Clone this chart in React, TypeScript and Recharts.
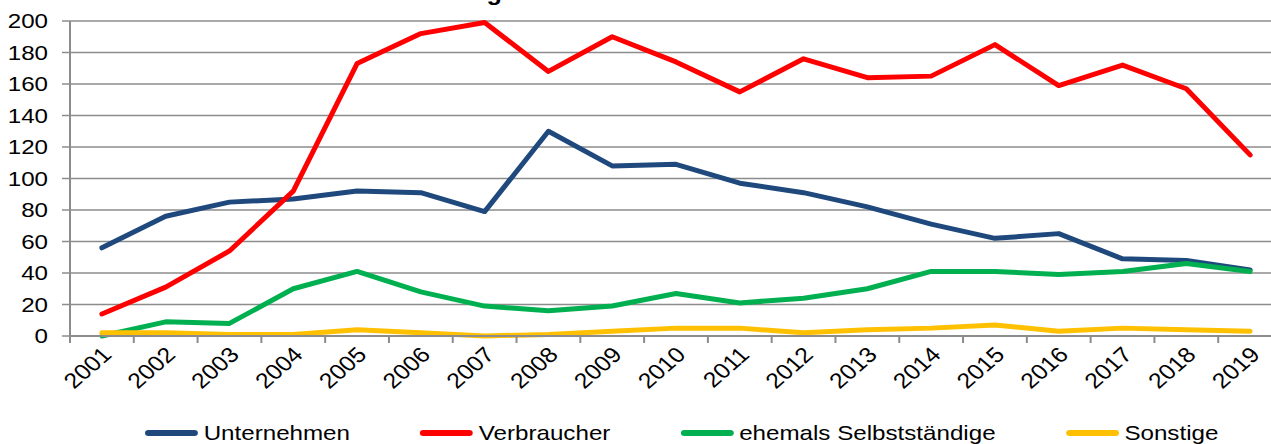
import React from "react";
import { LineChart, Line, XAxis, YAxis, CartesianGrid } from "recharts";

const YEARS = [
    "2001", "2002", "2003", "2004", "2005", "2006", "2007", "2008", "2009", "2010",
    "2011", "2012", "2013", "2014", "2015", "2016", "2017", "2018", "2019",
];
const UNTERNEHMEN = [56, 76, 85, 87, 92, 91, 79, 130, 108, 109, 97, 91, 82, 71, 62, 65, 49, 48, 42];
const VERBRAUCHER = [14, 31, 54, 92, 173, 192, 199, 168, 190, 174, 155, 176, 164, 165, 185, 159, 172, 157, 115];
const SELBSTSTAENDIGE = [0, 9, 8, 30, 41, 28, 19, 16, 19, 27, 21, 24, 30, 41, 41, 39, 41, 46, 41];
const SONSTIGE = [2, 2, 1, 1, 4, 2, 0, 1, 3, 5, 5, 2, 4, 5, 7, 3, 5, 4, 3];
const Y_TICKS = [0, 20, 40, 60, 80, 100, 120, 140, 160, 180, 200];

const SERIES = [
    { key: "unternehmen", name: "Unternehmen", color: "#1F497D", values: UNTERNEHMEN },
    { key: "verbraucher", name: "Verbraucher", color: "#FF0000", values: VERBRAUCHER },
    { key: "selbst", name: "ehemals Selbstständige", color: "#00B050", values: SELBSTSTAENDIGE },
    { key: "sonstige", name: "Sonstige", color: "#FFC000", values: SONSTIGE },
];

const data = YEARS.map((year, i) => {
    const row: Record<string, any> = { year };
    for (const s of SERIES) row[s.key] = s.values[i];
    return row;
});

const FONT = '"Liberation Sans", Arial, sans-serif';
const STRETCH = 1.15; // the original text is a bit wider than plain Arial
const GRID = "#8c8c8c";

const CHART_W = 1290;
const CHART_H = 444;
const MARGIN = { top: 21, right: 8, left: 0, bottom: 0 };
const Y_AXIS_W = 70;
const BAND = (CHART_W - MARGIN.left - MARGIN.right - Y_AXIS_W) / YEARS.length;

function YTick({ x, y, payload }: any) {
    return (
        <text
            transform={`translate(${x},${y}) scale(${STRETCH},1)`}
            textAnchor="end"
            dy={7}
            fontSize={21}
            fontFamily={FONT}
            fill="#000"
        >
            {payload.value}
        </text>
    );
}

function XTick({ x, y, payload }: any) {
    const edge = x - BAND / 2;
    return (
        <g>
            <line x1={edge} x2={edge} y1={y} y2={y + 7} stroke={GRID} strokeWidth={2} />
            <text
                transform={`translate(${x + 11},${y + 20}) scale(${STRETCH},1) rotate(-45)`}
                textAnchor="end"
                fontSize={21.5}
                fontFamily={FONT}
                fill="#000"
            >
                {payload.value}
            </text>
        </g>
    );
}

export default function App() {
    return (
        <div
            style={{
                position: "absolute",
                left: 0,
                top: 0,
                width: 1271,
                height: 444,
                overflow: "hidden",
                background: "#fff",
                fontFamily: FONT,
            }}
        >
            <div
                style={{
                    position: "absolute",
                    left: 353,
                    top: -17.6,
                    fontSize: 22,
                    lineHeight: "22px",
                    fontWeight: "bold",
                    whiteSpace: "nowrap",
                    transform: `scaleX(${STRETCH})`,
                    transformOrigin: "left",
                }}
            >
                Entwicklung der Insolvenzen
            </div>
            <LineChart width={CHART_W} height={CHART_H} data={data} margin={MARGIN}>
                <CartesianGrid vertical={false} stroke={GRID} strokeWidth={1.5} />
                <XAxis
                    dataKey="year"
                    scale="band"
                    interval={0}
                    height={CHART_H - 336}
                    tickSize={0}
                    tickMargin={0}
                    tickLine={false}
                    axisLine={{ stroke: GRID, strokeWidth: 2 }}
                    tick={<XTick />}
                />
                <YAxis
                    width={Y_AXIS_W}
                    domain={[0, 200]}
                    ticks={Y_TICKS}
                    interval={0}
                    tickSize={8}
                    tickMargin={14}
                    tickLine={{ stroke: GRID, strokeWidth: 1.5 }}
                    axisLine={{ stroke: GRID, strokeWidth: 2 }}
                    tick={<YTick />}
                />
                {SERIES.map((s) => (
                    <Line
                        key={s.key}
                        dataKey={s.key}
                        name={s.name}
                        stroke={s.color}
                        strokeWidth={5}
                        strokeLinecap="round"
                        strokeLinejoin="round"
                        dot={false}
                        activeDot={false}
                        isAnimationActive={false}
                    />
                ))}
            </LineChart>
            <div
                style={{
                    position: "absolute",
                    left: 145,
                    top: 421,
                    height: 24,
                    display: "flex",
                    alignItems: "center",
                    gap: 61,
                    fontSize: 21,
                    whiteSpace: "nowrap",
                    transform: `scaleX(${STRETCH})`,
                    transformOrigin: "left",
                }}
            >
                {SERIES.map((s) => (
                    <div key={s.key} style={{ display: "flex", alignItems: "center" }}>
                        <span
                            style={{
                                display: "inline-block",
                                width: 46,
                                height: 6,
                                borderRadius: 3,
                                background: s.color,
                                marginRight: 5,
                            }}
                        />
                        <span>{s.name}</span>
                    </div>
                ))}
            </div>
        </div>
    );
}
